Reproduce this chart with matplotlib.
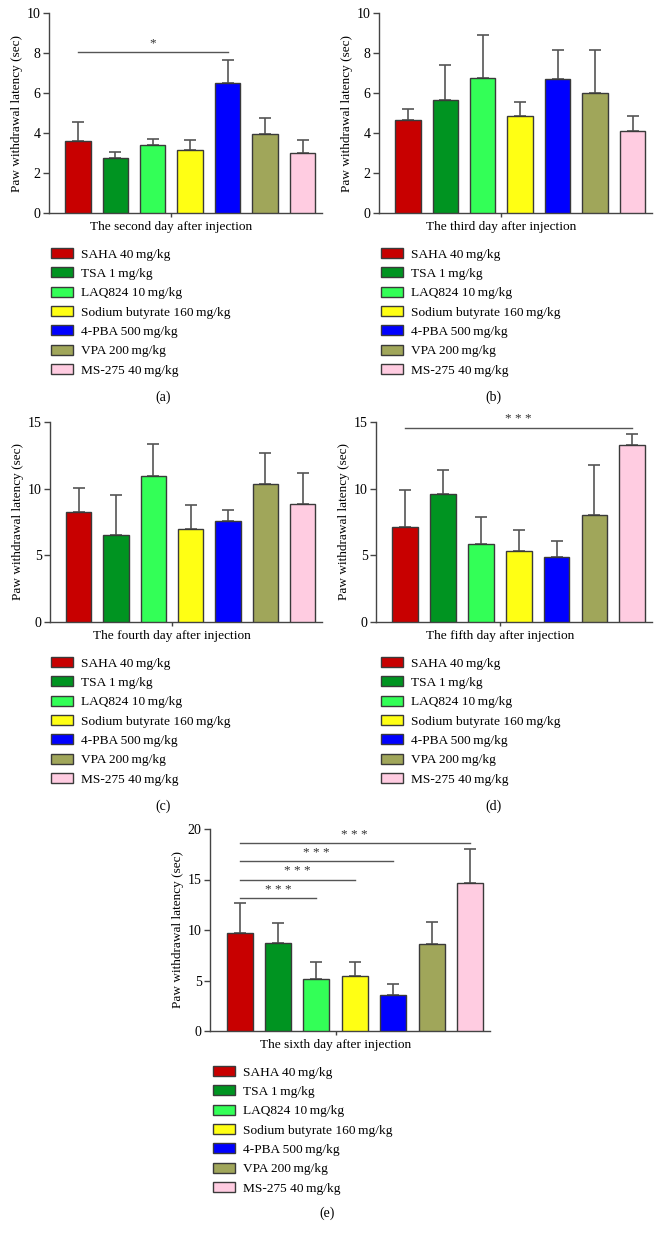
import matplotlib
matplotlib.use('Agg')
import matplotlib.pyplot as plt
from matplotlib.patches import Patch

plt.rcParams['font.family'] = ['Liberation Serif', 'DejaVu Serif']

groups = ['SAHA 40\u2009mg/kg', 'TSA 1\u2009mg/kg', 'LAQ824 10\u2009mg/kg',
          'Sodium butyrate 160\u2009mg/kg', '4-PBA 500\u2009mg/kg',
          'VPA 200\u2009mg/kg', 'MS-275 40\u2009mg/kg']
colors = ['#C80000', '#009421', '#33FF57', '#FFFF14', '#0000FF', '#A0A65A', '#FFCCE1']

day_titles = ['The second day after injection', 'The third day after injection',
              'The fourth day after injection', 'The fifth day after injection',
              'The sixth day after injection']
panel_letters = ['(a)', '(b)', '(c)', '(d)', '(e)']

day2_means = [3.6, 2.75, 3.4, 3.15, 6.5, 3.95, 3.0]
day2_err = [0.93, 0.28, 0.32, 0.52, 1.15, 0.8, 0.67]
day3_means = [4.65, 5.67, 6.75, 4.83, 6.72, 6.0, 4.08]
day3_err = [0.55, 1.73, 2.13, 0.7, 1.43, 2.17, 0.75]
day4_means = [8.23, 6.52, 10.94, 6.97, 7.6, 10.33, 8.85]
day4_err = [1.83, 3.04, 2.43, 1.81, 0.78, 2.31, 2.34]
day5_means = [7.15, 9.62, 5.83, 5.33, 4.86, 8.0, 13.31]
day5_err = [2.74, 1.79, 2.07, 1.55, 1.24, 3.79, 0.82]
day6_means = [9.67, 8.68, 5.1, 5.43, 3.61, 8.58, 14.67]
day6_err = [3.05, 2.05, 1.75, 1.36, 1.06, 2.22, 3.31]

means_all = [day2_means, day3_means, day4_means, day5_means, day6_means]
errs_all = [day2_err, day3_err, day4_err, day5_err, day6_err]
ymax_all = [10, 10, 15, 15, 20]
ystep_all = [2, 2, 5, 5, 5]

# significance: (from group, to group, height, label)
sig_all = [
    [(0, 4, 8.07, '*')],
    [],
    [],
    [(0, 6, 14.58, '* * *')],
    [(0, 6, 18.6, '* * *'), (0, 4, 16.79, '* * *'),
     (0, 3, 14.97, '* * *'), (0, 2, 13.15, '* * *')],
]

W, H = 660, 1240
fig = plt.figure(figsize=(W / 100, H / 100), dpi=100)

# pixel layout: left, right, zero-y, top-y
rects = [(49, 322, 213, 13), (379, 652, 213, 13),
         (50, 322, 622, 422), (376, 652, 622, 422),
         (210, 490, 1031, 829)]
legend_pos = [(51, 248), (381, 248), (51, 657), (381, 657), (213, 1066)]
letter_pos = [(163, 397), (493, 397), (163, 806), (493, 806), (327, 1213)]

edge = '#3a3a3a'
for i in range(5):
    l, r, y0, yt = rects[i]
    ax = fig.add_axes([l / W, (H - y0) / H, (r - l) / W, (y0 - yt) / H])
    x = list(range(7))
    means = means_all[i]
    errs = errs_all[i]
    ax.bar(x, means, width=0.68, color=colors, edgecolor=edge,
           linewidth=1.0, zorder=3)
    ax.errorbar(x, means, yerr=[[0] * 7, errs], fmt='none', ecolor='#555555',
                elinewidth=1.2, capsize=4.3, capthick=1.2, zorder=2)
    ax.set_xlim(-0.77, 6.52)
    ax.set_ylim(0, ymax_all[i])
    ax.set_yticks(range(0, ymax_all[i] + 1, ystep_all[i]))
    ax.set_xticks([2.5])
    ax.set_xticklabels([day_titles[i]], fontsize=9.6)
    for s in ['top', 'right']:
        ax.spines[s].set_visible(False)
    for s in ['left', 'bottom']:
        ax.spines[s].set_color('#444444')
        ax.spines[s].set_linewidth(1.0)
    ax.tick_params(axis='y', direction='out', length=4, width=1.0,
                   color='#444444', labelsize=10, pad=2)
    ax.tick_params(axis='x', direction='out', length=3, width=1.0,
                   color='#444444', pad=3)
    ax.set_ylabel('Paw withdrawal latency (sec)', fontsize=9.5, labelpad=3)
    for (g1, g2, h, lab) in sig_all[i]:
        ax.plot([g1, g2], [h, h], color='#555555', lw=1.0, clip_on=False, zorder=4)
        ax.text((g1 + g2) / 2, h + ymax_all[i] * 0.012, lab, ha='center', va='bottom',
                fontsize=9.5, color='#333333', clip_on=False)
    handles = [Patch(facecolor=c, edgecolor=edge, linewidth=1.0) for c in colors]
    lx, ly = legend_pos[i]
    ax.legend(handles, groups, loc='upper left',
              bbox_to_anchor=(lx / W, (H - ly) / H), bbox_transform=fig.transFigure,
              frameon=False, fontsize=9.6, borderpad=0, borderaxespad=0,
              handlelength=1.65, handleheight=0.78, handletextpad=0.62,
              labelspacing=0.5)
    px, py = letter_pos[i]
    fig.text(px / W, (H - py) / H, panel_letters[i], ha='center', va='center',
             fontsize=10)

fig.savefig('out.png', dpi=100, facecolor='white')
